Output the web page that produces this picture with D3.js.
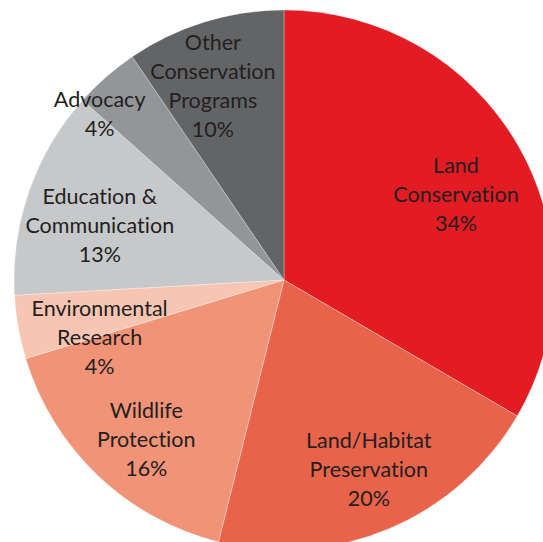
<!DOCTYPE html>
<html>
<head>
<meta charset="utf-8">
<script src="https://cdn.jsdelivr.net/npm/d3@7"></script>
<style>
  html, body { margin: 0; padding: 0; background: #ffffff; overflow: hidden; }
  svg { display: block; }
  text { font-variant-ligatures: none; }
</style>
</head>
<body>
<script>
// ---- Data ----
const categories = [
  ["Land", "Conservation"],
  ["Land/Habitat", "Preservation"],
  ["Wildlife", "Protection"],
  ["Environmental", "Research"],
  ["Education &", "Communication"],
  ["Advocacy"],
  ["Other", "Conservation", "Programs"]
];
// slice shares (degrees / 3.6)
const shares = [33.4, 20.5, 16.4, 3.8, 12.5, 3.9, 9.5];
// percentages as printed on the labels
const pctLabels = ["34%", "20%", "16%", "4%", "13%", "4%", "10%"];
const colors = ["#e31b23", "#e8634a", "#f09377", "#f7c5b1", "#c7c8ca", "#939598", "#636466"];

// ---- Layout ----
const W = 543, H = 542;
const cx = 284, cy = 280, R = 270;
const labelR = [192, 208, 211, 193, 192, 248, 207];     // radial distance of each label
const labelAngNudge = [3.5, -1.2, -2.8, -7.1, -2.9, -6.8, -3]; // degrees
const lineH = 29;
const fontSize = 21.5;

const svg = d3.select("body").append("svg").attr("width", W).attr("height", H);
const g = svg.append("g").attr("transform", `translate(${cx},${cy})`);

const pie = d3.pie().sort(null).value(d => d);
const arcs = pie(shares);
const arc = d3.arc().innerRadius(0).outerRadius(R);

g.selectAll("path.slice").data(arcs).join("path")
  .attr("class", "slice")
  .attr("d", arc)
  .attr("fill", (d, i) => colors[i])
  .attr("stroke", "#ffffff")
  .attr("stroke-width", 0.6)
  .attr("stroke-opacity", 0.5);

const labels = g.selectAll("text.lbl").data(arcs).join("text")
  .attr("class", "lbl")
  .attr("text-anchor", "middle")
  .attr("font-family", "Lato, 'Open Sans', sans-serif")
  .attr("font-size", fontSize)
  .attr("fill", "#231f20")
  .each(function(d, i) {
    const mid = (d.startAngle + d.endAngle) / 2 + labelAngNudge[i] * Math.PI / 180;
    const x = Math.sin(mid) * labelR[i];
    const y = -Math.cos(mid) * labelR[i];
    const lines = categories[i].concat([pctLabels[i]]);
    const n = lines.length;
    const t = d3.select(this);
    lines.forEach((ln, k) => {
      t.append("tspan")
        .attr("x", x)
        .attr("y", y + (k - (n - 1) / 2) * lineH)
        .attr("dy", "0.35em")
        .text(ln);
    });
  });
</script>
</body>
</html>
